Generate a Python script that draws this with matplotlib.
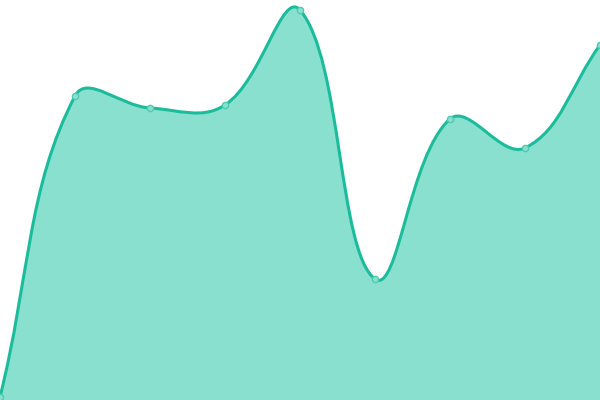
import numpy as np
import matplotlib
matplotlib.use("Agg")
import matplotlib.pyplot as plt
from matplotlib.path import Path
from matplotlib.patches import PathPatch

# point positions (x) and heights above the bottom edge
xs = [0, 75, 150, 225, 300, 375, 450, 525, 600]
values = [3, 304, 292, 295, 390, 121, 281, 252, 355]

LINE = "#1abc9c"
FILL = "#8ae0cf"
TENSION = 0.4


def control_points(pts, t):
    # bezier control points like a cardinal spline with tension t
    n = len(pts)
    ctrl = []
    for i in range(n):
        prev = pts[max(i - 1, 0)]
        cur = pts[i]
        nxt = pts[min(i + 1, n - 1)]
        d01 = np.hypot(*(cur - prev))
        d12 = np.hypot(*(nxt - cur))
        tot = d01 + d12
        s01 = d01 / tot if tot else 0
        s12 = d12 / tot if tot else 0
        before = cur - t * s01 * (nxt - prev)
        after = cur + t * s12 * (nxt - prev)
        ctrl.append((before, after))
    return ctrl


pts = np.array([[x, y] for x, y in zip(xs, values)], dtype=float)
ctrl = control_points(pts, TENSION)

verts = [tuple(pts[0])]
codes = [Path.MOVETO]
for i in range(1, len(pts)):
    verts += [tuple(ctrl[i - 1][1]), tuple(ctrl[i][0]), tuple(pts[i])]
    codes += [Path.CURVE4] * 3

fill_verts = verts + [(xs[-1], 0), (xs[0], 0), verts[0]]
fill_codes = codes + [Path.LINETO, Path.LINETO, Path.CLOSEPOLY]

fig = plt.figure(figsize=(6, 4), dpi=100)
ax = fig.add_axes([0, 0, 1, 1])
ax.set_xlim(0, 600)
ax.set_ylim(0, 400)
ax.axis("off")

ax.add_patch(PathPatch(Path(fill_verts, fill_codes), facecolor=FILL, edgecolor="none"))
ax.add_patch(PathPatch(Path(verts, codes), facecolor="none", edgecolor=LINE, lw=2.2))
ax.plot(xs, values, "o", ms=4.5, mfc=FILL, mec="#4fcbb2", mew=1, clip_on=True)

fig.savefig("out.png", dpi=100)
